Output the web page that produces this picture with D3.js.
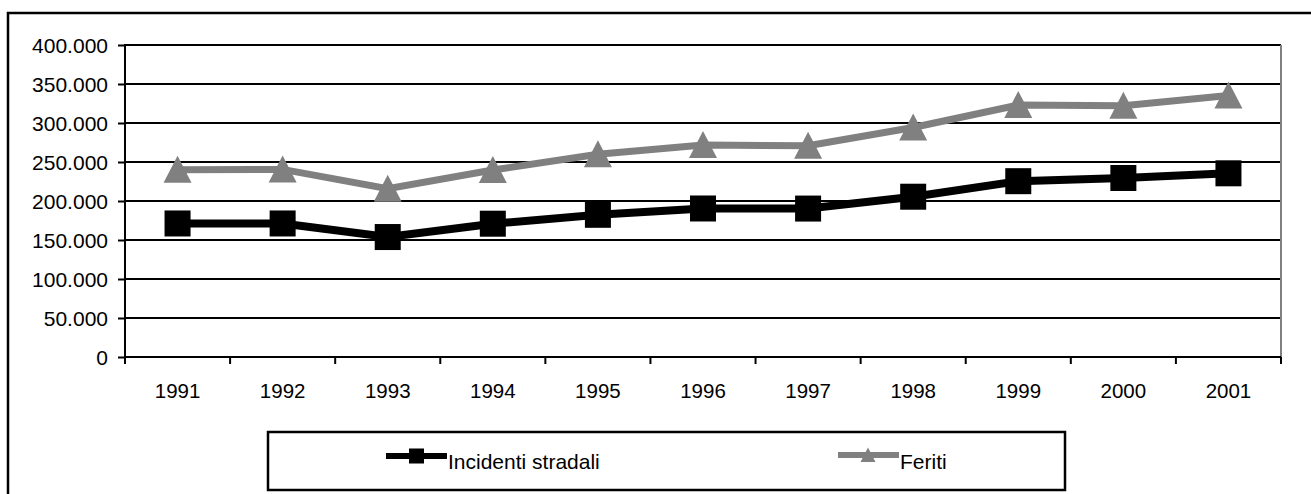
<!DOCTYPE html>
<html>
<head>
<meta charset="utf-8">
<script src="https://cdn.jsdelivr.net/npm/d3@7"></script>
<style>
  html, body { margin: 0; padding: 0; background: #fff; }
  svg { display: block; font-family: "Liberation Sans", Arial, sans-serif; }
</style>
</head>
<body>
<svg id="chart" width="1311" height="494"></svg>
<script>
// data
var years = ["1991","1992","1993","1994","1995","1996","1997","1998","1999","2000","2001"];
var incidenti = [171200, 171200, 153800, 170900, 182300, 190400, 190300, 205500, 225400, 229500, 235500];
var feriti = [240200, 240500, 215800, 239700, 260000, 271800, 270800, 294200, 323000, 322200, 335300];
var yTicks = [0, 50000, 100000, 150000, 200000, 250000, 300000, 350000, 400000];
var seriesNames = ["Incidenti stradali", "Feriti"];

var main = function() {
  var svg = d3.select("#chart");
  var plotL = 125, plotR = 1281, plotT = 45, plotB = 357;

  var it = d3.formatLocale({ decimal: ",", thousands: ".", grouping: [3], currency: ["", ""] });
  var fmt = it.format(",");

  var x = d3.scaleBand().domain(years).range([plotL, plotR]).padding(0);
  var y = d3.scaleLinear().domain([0, 400000]).range([plotB, plotT]);

  // outer frame (runs off the right/bottom edge like the source)
  svg.append("rect")
    .attr("x", 8).attr("y", 13)
    .attr("width", 1320).attr("height", 500)
    .attr("fill", "none").attr("stroke", "#000").attr("stroke-width", 2.5);

  // gridlines
  svg.append("g").selectAll("line")
    .data(yTicks.filter(function(d){ return d > 0; }))
    .join("line")
    .attr("x1", plotL).attr("x2", plotR)
    .attr("y1", function(d){ return y(d); }).attr("y2", function(d){ return y(d); })
    .attr("stroke", "#000").attr("stroke-width", 2);

  // right border of plot area
  svg.append("line")
    .attr("x1", plotR).attr("x2", plotR).attr("y1", plotT).attr("y2", plotB)
    .attr("stroke", "#808080").attr("stroke-width", 2);

  // y axis
  var yAxis = svg.append("g")
    .attr("transform", "translate(" + plotL + ",0)")
    .call(d3.axisLeft(y).tickValues(yTicks).tickFormat(fmt).tickSize(7).tickPadding(10));
  yAxis.select(".domain").remove();
  yAxis.append("line").attr("x1", 0).attr("x2", 0).attr("y1", plotT - 1).attr("y2", plotB + 7)
    .attr("stroke", "#000").attr("stroke-width", 2);
  yAxis.selectAll(".tick line").attr("stroke", "#000").attr("stroke-width", 2);
  yAxis.selectAll(".tick text").attr("fill", "#000").attr("dy", "0.38em").style("font-size", "21px")
    .style("font-family", "'Liberation Sans', Arial, sans-serif");

  // x axis
  var xAxis = svg.append("g").attr("transform", "translate(0," + plotB + ")");
  xAxis.append("line").attr("x1", plotL).attr("x2", plotR).attr("y1", 0).attr("y2", 0)
    .attr("stroke", "#000").attr("stroke-width", 2);
  var bounds = years.map(function(d){ return x(d); }).concat([x(years[years.length-1]) + x.bandwidth()]);
  xAxis.selectAll("line.tk").data(bounds).join("line").attr("class", "tk")
    .attr("x1", function(d){ return d; }).attr("x2", function(d){ return d; })
    .attr("y1", 0).attr("y2", 7).attr("stroke", "#000").attr("stroke-width", 2);
  xAxis.selectAll("text").data(years).join("text")
    .attr("x", function(d){ return x(d) + x.bandwidth() / 2; })
    .attr("y", 41)
    .attr("text-anchor", "middle")
    .style("font-size", "20.5px")
    .text(function(d){ return d; });

  var cx = function(i){ return x(years[i]) + x.bandwidth() / 2; };
  var line = d3.line().x(function(d, i){ return cx(i); }).y(function(d){ return y(d); });

  function triPath(w) {
    var h = w * 0.5;
    return "M0," + (-h) + "L" + h + "," + (h * 0.93) + "L" + (-h) + "," + (h * 0.93) + "Z";
  }

  // Feriti
  svg.append("path").datum(feriti).attr("d", line)
    .attr("fill", "none").attr("stroke", "#808080").attr("stroke-width", 7).attr("stroke-linejoin", "miter");
  svg.append("g").selectAll("path").data(feriti).join("path")
    .attr("transform", function(d, i){ return "translate(" + cx(i) + "," + y(d) + ")"; })
    .attr("d", triPath(28)).attr("fill", "#808080");

  // Incidenti
  svg.append("path").datum(incidenti).attr("d", line)
    .attr("fill", "none").attr("stroke", "#000").attr("stroke-width", 8).attr("stroke-linejoin", "miter");
  svg.append("g").selectAll("rect").data(incidenti).join("rect")
    .attr("x", function(d, i){ return cx(i) - 13; })
    .attr("y", function(d){ return y(d) - 13; })
    .attr("width", 26).attr("height", 26).attr("fill", "#000");

  // legend
  var lg = svg.append("g");
  lg.append("rect").attr("x", 268).attr("y", 432).attr("width", 797).attr("height", 58)
    .attr("fill", "#fff").attr("stroke", "#000").attr("stroke-width", 2.5);

  var l1 = lg.append("g").attr("transform", "translate(386,456)");
  l1.append("line").attr("x1", 0).attr("x2", 61).attr("y1", 0).attr("y2", 0)
    .attr("stroke", "#000").attr("stroke-width", 6);
  l1.append("rect").attr("x", 23).attr("y", -7.5).attr("width", 15).attr("height", 15).attr("fill", "#000");
  l1.append("text").attr("x", 62).attr("y", 13).style("font-size", "21px").text(seriesNames[0]);

  var l2 = lg.append("g").attr("transform", "translate(838,455)");
  l2.append("line").attr("x1", 0).attr("x2", 61).attr("y1", 0).attr("y2", 0)
    .attr("stroke", "#808080").attr("stroke-width", 6);
  l2.append("path").attr("transform", "translate(30,0)").attr("d", triPath(15)).attr("fill", "#808080");
  l2.append("text").attr("x", 62).attr("y", 14).style("font-size", "21px").text(seriesNames[1]);
};
main();
</script>
</body>
</html>
